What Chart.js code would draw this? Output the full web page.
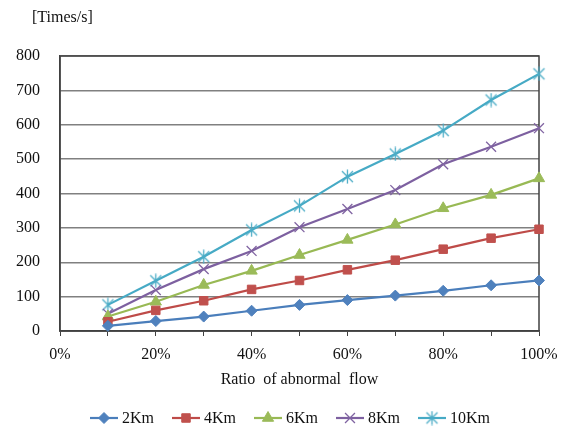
<!DOCTYPE html>
<html>
<head>
<meta charset="utf-8">
<script src="https://cdn.jsdelivr.net/npm/chart.js@4/dist/chart.umd.min.js"></script>
<style>
  html, body { margin: 0; padding: 0; background: #fff; }
  #wrap { width: 570px; height: 428px; position: relative; }
</style>
</head>
<body>
<div id="wrap"><canvas id="c" width="570" height="428"></canvas></div>
<script>
// Ratio of abnormal flow (%) and detection rate per distance
const ratios = [10, 20, 30, 40, 50, 60, 70, 80, 90, 100];
const seriesNames = ['2Km', '4Km', '6Km', '8Km', '10Km'];
const rate2Km  = [15, 29, 42, 59, 76, 90, 103, 117, 133, 147];
const rate4Km  = [27, 60, 88, 121, 147, 178, 206, 238, 270, 296];
const rate6Km  = [42, 85, 134, 175, 221, 265, 310, 357, 396, 444];
const rate8Km  = [50, 119, 180, 233, 302, 355, 410, 485, 536, 590];
const rate10Km = [76, 146, 216, 294, 364, 449, 515, 583, 672, 748];
const yTicks = [0, 100, 200, 300, 400, 500, 600, 700, 800];
const xTickLabels = ['0%', '20%', '40%', '60%', '80%', '100%'];

const FONT = '"Liberation Serif", "Times New Roman", serif';
const lineColors   = ['#4A7EBB', '#BE4B48', '#98B954', '#7D60A0', '#46AAC5'];
const markerColors = ['#4F81BD', '#C0504D', '#9BBB59', '#8064A2', '#4BACC6'];

// asterisk-like marker: X with a vertical stroke
function makeAsterisk(color) {
  const s = 15, c = document.createElement('canvas');
  c.width = s; c.height = s;
  const g = c.getContext('2d');
  g.strokeStyle = color; g.lineWidth = 1.3;
  g.beginPath();
  g.moveTo(2, 2); g.lineTo(s - 2, s - 2);
  g.moveTo(s - 2, 2); g.lineTo(2, s - 2);
  g.moveTo(s / 2, 0.5); g.lineTo(s / 2, s - 0.5);
  g.stroke();
  return c;
}
const asterisk = makeAsterisk(markerColors[4]);

const styles = [
  { pointStyle: 'rectRot',  radius: 5.5 },
  { pointStyle: 'rect',     radius: 6 },
  { pointStyle: 'triangle', radius: 6.5 },
  { pointStyle: 'crossRot', radius: 7 },
  { pointStyle: asterisk,   radius: 7 }
];
const values = [rate2Km, rate4Km, rate6Km, rate8Km, rate10Km];

const datasets = values.map((vals, i) => ({
  label: seriesNames[i],
  data: ratios.map((r, k) => ({ x: r, y: vals[k] })),
  borderColor: lineColors[i],
  backgroundColor: markerColors[i],
  pointBackgroundColor: markerColors[i],
  pointBorderColor: markerColors[i],
  pointBorderWidth: i >= 3 ? 1.3 : 1,
  borderWidth: 2.2,
  pointStyle: styles[i].pointStyle,
  pointRadius: styles[i].radius,
  pointHoverRadius: styles[i].radius,
  tension: 0,
  clip: false
}));

// frame around the plot area, unit label and the line+marker legend
const decor = {
  id: 'decor',
  beforeDatasetsDraw(chart) {
    const { ctx, chartArea: a } = chart;
    ctx.save();
    ctx.strokeStyle = '#404040';
    ctx.lineWidth = 1.5;
    ctx.strokeRect(a.left, a.top, a.right - a.left, a.bottom - a.top);
    ctx.restore();
  },
  afterDraw(chart) {
    const { ctx } = chart;
    ctx.save();
    ctx.fillStyle = '#111';
    ctx.font = '16px ' + FONT;
    ctx.textBaseline = 'middle';
    ctx.textAlign = 'left';
    ctx.fillText('[Times/s]', 32, 18);

    const startX = 90, stepX = 82, y = 418, lineLen = 28;
    chart.data.datasets.forEach((ds, i) => {
      const x0 = startX + i * stepX;
      ctx.strokeStyle = ds.borderColor;
      ctx.lineWidth = 2.2;
      ctx.beginPath();
      ctx.moveTo(x0, y); ctx.lineTo(x0 + lineLen, y);
      ctx.stroke();
      ctx.fillStyle = ds.pointBackgroundColor;
      ctx.strokeStyle = ds.pointBorderColor;
      ctx.lineWidth = ds.pointBorderWidth;
      Chart.helpers.drawPoint(ctx, { pointStyle: ds.pointStyle, rotation: 0, radius: ds.pointRadius, borderWidth: ds.pointBorderWidth }, x0 + lineLen / 2, y);
      ctx.fillStyle = '#111';
      ctx.font = '16px ' + FONT;
      ctx.textAlign = 'left';
      ctx.textBaseline = 'middle';
      ctx.fillText(ds.label, x0 + lineLen + 4, y + 1);
    });
    ctx.restore();
  }
};

new Chart(document.getElementById('c'), {
  type: 'line',
  data: { datasets },
  plugins: [decor],
  options: {
    responsive: false,
    animation: false,
    devicePixelRatio: 1,
    layout: { padding: { top: 56, right: 31, bottom: 37, left: 0 } },
    plugins: { legend: { display: false }, tooltip: { enabled: false } },
    scales: {
      x: {
        type: 'linear',
        min: 0, max: 100,
        ticks: {
          stepSize: 10,
          autoSkip: false,
          maxRotation: 0,
          color: '#111',
          padding: 9,
          font: { family: FONT, size: 16 },
          callback: (v) => (v % 20 === 0 ? xTickLabels[v / 20] : '')
        },
        grid: { drawOnChartArea: false, drawTicks: true, tickLength: 5, color: '#404040', lineWidth: 1 },
        border: { display: true, color: '#404040', width: 1.5 },
        title: {
          display: true,
          text: 'Ratio  of abnormal  flow',
          color: '#111',
          font: { family: FONT, size: 16 },
          padding: { top: 0, bottom: 2 }
        },
        afterFit(scale) { scale.height = 60; }
      },
      y: {
        min: 0, max: 800,
        afterBuildTicks(scale) { scale.ticks = yTicks.map(v => ({ value: v })); },
        ticks: {
          color: '#111',
          padding: 20,
          font: { family: FONT, size: 16 }
        },
        grid: { color: '#808080', lineWidth: 1.5, drawTicks: false },
        border: { display: true, color: '#404040', width: 1.5 },
        afterFit(scale) { scale.width = 60; }
      }
    }
  }
});
</script>
</body>
</html>
